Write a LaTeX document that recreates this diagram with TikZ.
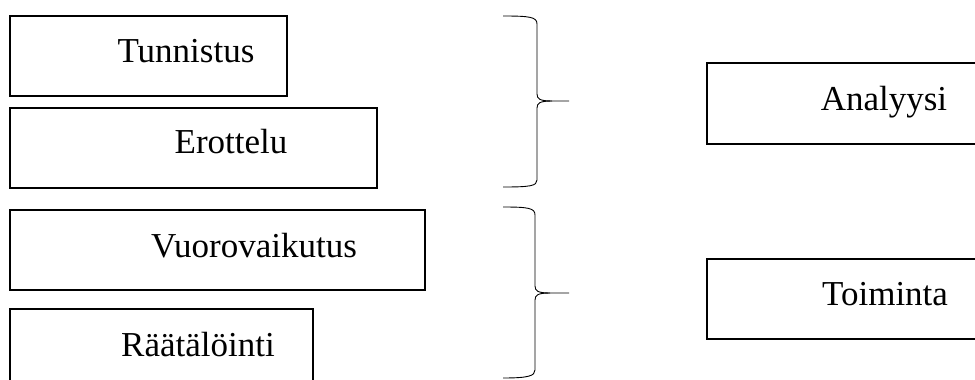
\documentclass[tikz,border=0pt]{standalone}
\usepackage{fontspec}
\setmainfont{Liberation Serif}
\begin{document}
\begin{tikzpicture}[x=1pt,y=-1pt,
  box/.style={draw=black,line width=2pt,rectangle,inner sep=0pt},
  lbl/.style={anchor=base,inner sep=0pt,font=\fontsize{35}{40}\selectfont},
  brace/.style={draw=black,line width=0.9pt}]
\useasboundingbox (0,0) rectangle (975,380);
\clip (0,0) rectangle (975,380);
\fill[white] (0,0) rectangle (975,380);
% left boxes
\node[box,minimum width=277pt,minimum height=80pt] (b1) at (148.5,55.5) {};
\node[lbl] (t1) at (186,62) {Tunnistus};
\node[box,minimum width=367pt,minimum height=80pt] (b2) at (193.5,148) {};
\node[lbl] (t2) at (231,153) {Erottelu};
\node[box,minimum width=415pt,minimum height=80pt] (b3) at (217.5,250) {};
\node[lbl] (t3) at (254,257) {Vuorovaikutus};
\node[box,minimum width=303pt,minimum height=90pt] (b4) at (161.5,354) {};
\node[lbl] (t4) at (198,356) {Räätälöinti};
% right boxes
\node[box,minimum width=300pt,minimum height=81pt] (b5) at (857,103.5) {};
\node[lbl] (t5) at (884,110) {Analyysi};
\node[box,minimum width=300pt,minimum height=80pt] (b6) at (857,299) {};
\node[lbl] (t6) at (885,305) {Toiminta};
% braces
\draw[brace] (503,16) .. controls (530,16) and (537,17) .. (537,24) -- (537,94)
  .. controls (537,99) and (540,101) .. (552,101) -- (569,101);
\draw[brace] (552,101) .. controls (540,101) and (537,103) .. (537,108) -- (537,180)
  .. controls (537,186) and (530,187) .. (503,187);
\draw[brace] (503,207) .. controls (528,207) and (535,208) .. (535,215) -- (535,286)
  .. controls (535,291) and (538,293) .. (550,293) -- (569,293);
\draw[brace] (550,293) .. controls (538,293) and (535,295) .. (535,300) -- (535,370)
  .. controls (535,376) and (528,378) .. (503,378);
\end{tikzpicture}
\end{document}
